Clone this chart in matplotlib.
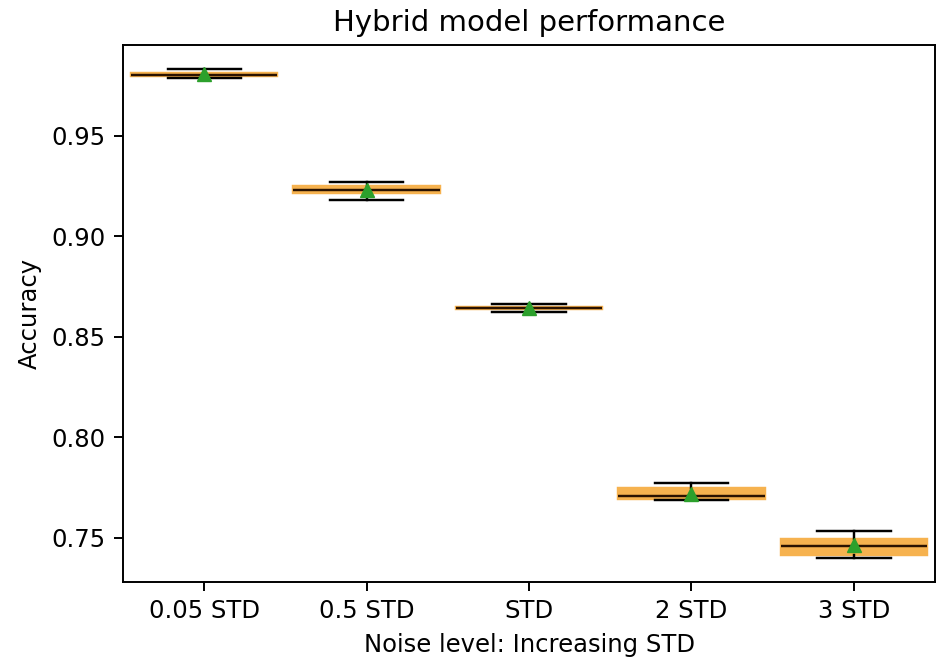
import matplotlib
matplotlib.use("Agg")
from matplotlib import pyplot as plt

# noise levels and accuracy runs: min, q1, median, q3, max
labels = ["0.05 STD", "0.5 STD", "STD", "2 STD", "3 STD"]
acc_005 = [0.9790, 0.9797, 0.9805, 0.9815, 0.9830]
acc_05 = [0.9180, 0.9215, 0.9232, 0.9252, 0.9268]
acc_1 = [0.8625, 0.8640, 0.8645, 0.8650, 0.8665]
acc_2 = [0.7685, 0.7690, 0.7705, 0.7745, 0.7770]
acc_3 = [0.7400, 0.7415, 0.7460, 0.7495, 0.7535]
data = [acc_005, acc_05, acc_1, acc_2, acc_3]

plt.rcParams["font.family"] = "DejaVu Sans"
fig = plt.figure(figsize=(9.38, 6.63), dpi=100)
ax = fig.add_axes([0.131, 0.122, 0.866, 0.81])

s = 1.75  # scale of the original figure
ax.boxplot(data, widths=0.9, showmeans=True, whis=(0, 100), patch_artist=True,
           boxprops=dict(facecolor="#f6b24f", edgecolor="#f6b24f", linewidth=s),
           whiskerprops=dict(linewidth=s),
           capprops=dict(linewidth=s),
           medianprops=dict(linewidth=s, color="#2a1200"),
           meanprops=dict(marker="^", markerfacecolor="#2ca02c",
                          markeredgecolor="#2ca02c", markersize=6 * s))

ax.set_xticks(range(1, len(labels) + 1))
ax.set_xticklabels(labels)
ax.set_yticks([0.75, 0.80, 0.85, 0.90, 0.95])
ax.tick_params(labelsize=10 * s, width=0.8 * s, length=3.5 * s, pad=3.5 * s)
for sp in ax.spines.values():
    sp.set_linewidth(0.8 * s)

ax.set_title("Hybrid model performance", fontsize=12 * s, pad=6 * s)
ax.set_xlabel("Noise level: Increasing STD", fontsize=10 * s, labelpad=4 * s)
ax.set_ylabel("Accuracy", fontsize=10 * s, labelpad=4 * s)

plt.savefig("out.png", dpi=100)
